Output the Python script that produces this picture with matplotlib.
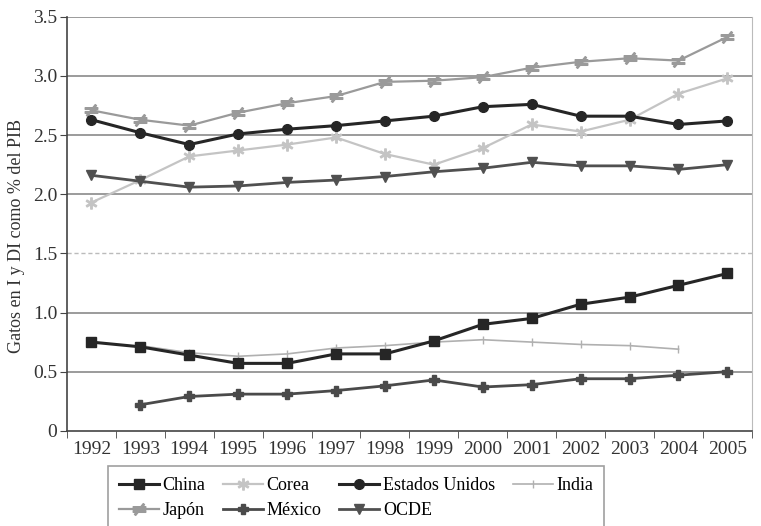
import matplotlib
matplotlib.use("Agg")
import matplotlib.pyplot as plt
import numpy as np

# datos
anios = ["1992", "1993", "1994", "1995", "1996", "1997", "1998",
         "1999", "2000", "2001", "2002", "2003", "2004", "2005"]
china = [0.75, 0.71, 0.64, 0.57, 0.57, 0.65, 0.65, 0.76, 0.90, 0.95, 1.07, 1.13, 1.23, 1.33]
corea = [1.93, 2.12, 2.32, 2.37, 2.42, 2.48, 2.34, 2.25, 2.39, 2.59, 2.53, 2.63, 2.85, 2.98]
eeuu = [2.63, 2.52, 2.42, 2.51, 2.55, 2.58, 2.62, 2.66, 2.74, 2.76, 2.66, 2.66, 2.59, 2.62]
india = [None, 0.72, 0.66, 0.63, 0.65, 0.70, 0.72, 0.75, 0.77, 0.75, 0.73, 0.72, 0.69, None]
japon = [2.71, 2.63, 2.58, 2.69, 2.77, 2.83, 2.95, 2.96, 2.99, 3.07, 3.12, 3.15, 3.13, 3.33]
mexico = [None, 0.22, 0.29, 0.31, 0.31, 0.34, 0.38, 0.43, 0.37, 0.39, 0.44, 0.44, 0.47, 0.50]
ocde = [2.16, 2.11, 2.06, 2.07, 2.10, 2.12, 2.15, 2.19, 2.22, 2.27, 2.24, 2.24, 2.21, 2.25]

def arr(v):
    return np.array([np.nan if x is None else x for x in v], dtype=float)

plt.rcParams['font.family'] = ['Liberation Serif', 'DejaVu Serif']

fig = plt.figure(figsize=(7.61, 5.26), dpi=100)
ax = fig.add_axes([0.088, 0.181, 0.9, 0.787])

x = np.arange(len(anios))

# lineas de la cuadricula
for yv in [0.5, 1.0, 2.0, 2.5, 3.0, 3.5]:
    ax.axhline(yv, color="#8a8a8a", lw=1.2, zorder=1)
ax.axhline(1.5, color="#bbbbbb", lw=1.0, ls=(0, (3, 2)), zorder=1)

ax.plot(x, arr(japon), color="#9a9a9a", lw=1.6, marker="$\u2260$", ms=9, label="Japón", zorder=3)
ax.plot(x, arr(corea), color="#c4c4c4", lw=1.6, marker="$\u2217$", ms=8, label="Corea", zorder=3)
ax.plot(x, arr(eeuu), color="#262626", lw=2.2, marker="o", ms=7, label="Estados Unidos", zorder=4)
ax.plot(x, arr(ocde), color="#505050", lw=2.0, marker="v", ms=7, label="OCDE", zorder=4)
ax.plot(x, arr(india), color="#b0b0b0", lw=1.2, marker="|", ms=6, label="India", zorder=3)
ax.plot(x, arr(china), color="#262626", lw=2.2, marker="s", ms=7, label="China", zorder=5)
ax.plot(x, arr(mexico), color="#4a4a4a", lw=2.0, marker="P", ms=7, label="México", zorder=4)

ax.set_xlim(-0.5, len(anios) - 0.5)
ax.set_ylim(0, 3.5)
ax.set_yticks([0, 0.5, 1.0, 1.5, 2.0, 2.5, 3.0, 3.5])
ax.set_yticklabels(["0", "0.5", "1.0", "1.5", "2.0", "2.5", "3.0", "3.5"], fontsize=14, color="#333333")

ax.set_xticks(x)
ax.set_xticklabels(anios, fontsize=14, color="#333333")
ax.tick_params(axis="x", which="major", length=0, pad=7)
ax.set_xticks(np.arange(-0.5, len(anios)), minor=True)
ax.tick_params(axis="x", which="minor", length=5, color="#444444", direction="out")
ax.tick_params(axis="y", length=5, color="#444444", direction="out", pad=2)

ax.spines["top"].set_visible(False)
ax.spines["right"].set_color("#bbbbbb")
ax.spines["left"].set_color("#444444")
ax.spines["bottom"].set_color("#444444")
ax.spines["left"].set_linewidth(1.2)
ax.spines["bottom"].set_linewidth(1.2)

ax.set_ylabel("Gatos en I y DI como % del PIB", fontsize=13, color="#333333")
ax.yaxis.set_label_coords(-0.062, 0.47)

handles, labels = ax.get_legend_handles_labels()
orden = ["China", "Japón", "Corea", "México", "Estados Unidos", "OCDE", "India"]
h = dict(zip(labels, handles))
hs = [h[k] for k in orden]
leg = fig.legend(hs, orden, ncol=4, loc="upper left", bbox_to_anchor=(0.142, 0.114),
                 borderaxespad=0, frameon=True, fancybox=False, fontsize=13, handlelength=2.2,
                 handletextpad=0.2, columnspacing=1.0, borderpad=0.6, labelspacing=0.45)
leg.get_frame().set_edgecolor("#888888")
leg.get_frame().set_linewidth(1.2)

fig.savefig("out.png", dpi=100)
